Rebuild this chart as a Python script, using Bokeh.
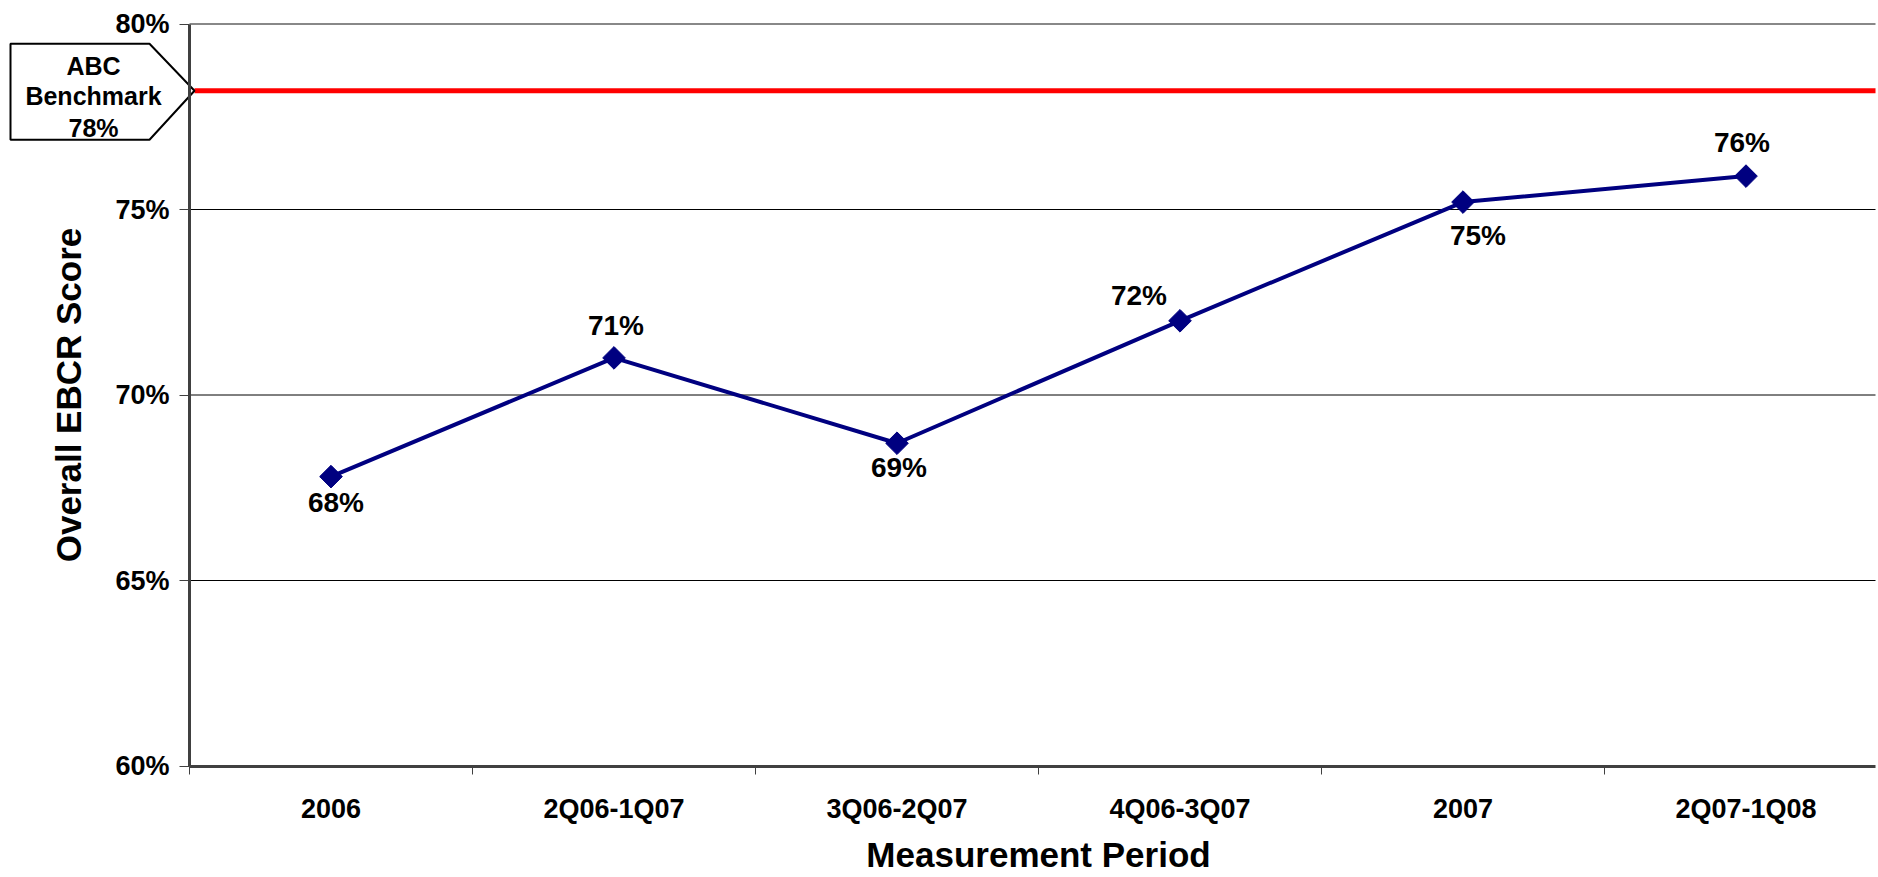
import numpy as np
from bokeh.plotting import figure
from bokeh.models import (ColumnDataSource, FixedTicker, PrintfTickFormatter, Label, Range1d)
from bokeh.core.properties import value
from bokeh.embed import file_html
from bokeh.resources import INLINE

# ---- data ----
periods = ["2006", "2Q06-1Q07", "3Q06-2Q07", "4Q06-3Q07", "2007", "2Q07-1Q08"]
scores = [67.8, 71.0, 68.7, 72.0, 75.2, 75.9]
benchmark_lines = ["ABC", "Benchmark"]
benchmark = 78.2
y_ticks = [60, 65, 70, 75, 80]
x_title = "Measurement Period"
y_title = "Overall EBCR Score"

# ---- layout (pixels) ----
W, H = 1878, 877
AXIS_X = 189          # screen x of the value axis
PLOT_RIGHT = 1875     # screen x where the plot area ends
CAT_W = 283.0         # width of one period slot
Y_BASE = 765.5        # screen y of the lowest tick
PX_PER_PCT = 37.1
FONT = "Liberation Sans"
NAVY = "#000080"
AXIS_GRAY = "#404040"


def sx_to_x(sx):
    return (sx - AXIS_X) / CAT_W


def dpx_to_y(dpx):
    return dpx / PX_PER_PCT


y_lo = y_ticks[0]
y_hi = y_ticks[-1]
x_end = sx_to_x(PLOT_RIGHT)

# label offsets (pixels, screen-down positive)
label_dx = [5, 2, 2, -41, 15, -4]
label_dy = [26, -32, 24, -25, 33, -34]

centers = [i + 0.5 for i in range(len(periods))]
src = ColumnDataSource(dict(
    x=centers, y=scores,
    label=[f"{v:.0f}%" for v in scores],
    dx=label_dx, dy=label_dy,
))

p = figure(width=W, height=H, output_backend="svg", toolbar_location=None,
           x_range=Range1d(sx_to_x(0), sx_to_x(W)),
           y_range=Range1d(y_lo - (H - Y_BASE) / PX_PER_PCT, y_lo + Y_BASE / PX_PER_PCT),
           min_border=0)
p.outline_line_color = None
p.background_fill_color = "white"
p.border_fill_color = "white"
p.grid.visible = False

# horizontal gridlines across the plot area
grid_y = y_ticks[1:-1]
p.segment(x0=[0] * len(grid_y), x1=[x_end] * len(grid_y), y0=grid_y, y1=grid_y,
          line_color="black", line_width=1)
p.segment(x0=[0], x1=[x_end], y0=[y_hi], y1=[y_hi], line_color="#888888", line_width=2)

# y axis, pinned at the left edge of the plot area
ya = p.yaxis[0]
ya.fixed_location = 0
ya.bounds = (y_lo, y_hi)
ya.ticker = FixedTicker(ticks=y_ticks)
ya.formatter = PrintfTickFormatter(format="%d%%")
ya.axis_line_color = AXIS_GRAY
ya.axis_line_width = 3
ya.major_tick_out = 10
ya.major_tick_in = 0
ya.major_tick_line_color = AXIS_GRAY
ya.minor_tick_line_color = None
ya.major_label_standoff = 10
ya.major_label_text_font = FONT
ya.major_label_text_font_style = "bold"
ya.major_label_text_font_size = "27px"
ya.major_label_text_color = "black"

# x axis: labels at slot centres, tick marks at slot boundaries
xa = p.xaxis[0]
xa.fixed_location = y_lo
xa.bounds = (0, x_end)
xa.ticker = FixedTicker(ticks=centers, minor_ticks=list(range(len(periods) + 1)))
xa.major_label_overrides = {c: name for c, name in zip(centers, periods)}
xa.axis_line_color = AXIS_GRAY
xa.axis_line_width = 3
xa.major_tick_line_color = None
xa.major_tick_out = 0
xa.major_tick_in = 0
xa.minor_tick_line_color = AXIS_GRAY
xa.minor_tick_out = 8
xa.minor_tick_in = 0
xa.major_label_standoff = 20
xa.major_label_text_font = FONT
xa.major_label_text_font_style = "bold"
xa.major_label_text_font_size = "27px"
xa.major_label_text_color = "black"

# axis titles
p.add_layout(Label(x=len(periods) / 2, y=y_lo - dpx_to_y(88), text=x_title,
                   text_font=FONT, text_font_style="bold", text_font_size="35px",
                   text_color="black", text_align="center", text_baseline="middle"))
p.add_layout(Label(x=sx_to_x(68), y=(y_lo + y_hi) / 2, text=y_title, angle=np.pi / 2,
                   text_font=FONT, text_font_style="bold", text_font_size="35px",
                   text_color="black", text_align="center", text_baseline="middle"))

# benchmark line and its callout
tip_x = sx_to_x(194)
p.segment(x0=[tip_x], x1=[x_end], y0=[benchmark], y1=[benchmark],
          line_color="#FF0000", line_width=5)
xl, xs_ = sx_to_x(10), sx_to_x(149)
yt, yb = benchmark + dpx_to_y(47), benchmark - dpx_to_y(49)
p.patch(x=[xl, xs_, tip_x, xs_, xl], y=[yt, yt, benchmark, yb, yb],
        fill_color="white", line_color="black", line_width=2)
callout_text = benchmark_lines + [f"{benchmark:.0f}%"]
for txt, dpx in zip(callout_text, [25, -5, -37]):
    p.add_layout(Label(x=sx_to_x(93), y=benchmark + dpx_to_y(dpx), text=txt,
                       text_font=FONT, text_font_style="bold", text_font_size="25px",
                       text_color="black", text_align="center", text_baseline="middle"))

# score series
p.line("x", "y", source=src, line_color=NAVY, line_width=4)
p.scatter("x", "y", source=src, marker="square", size=16, angle=np.pi / 4,
          fill_color=NAVY, line_color=NAVY)
p.text("x", "y", text="label", source=src, x_offset="dx", y_offset="dy",
       text_font=value(FONT), text_font_style="bold", text_font_size="28px",
       text_align="center", text_baseline="middle", text_color="black")

open("out.html", "w").write(file_html(p, INLINE))
